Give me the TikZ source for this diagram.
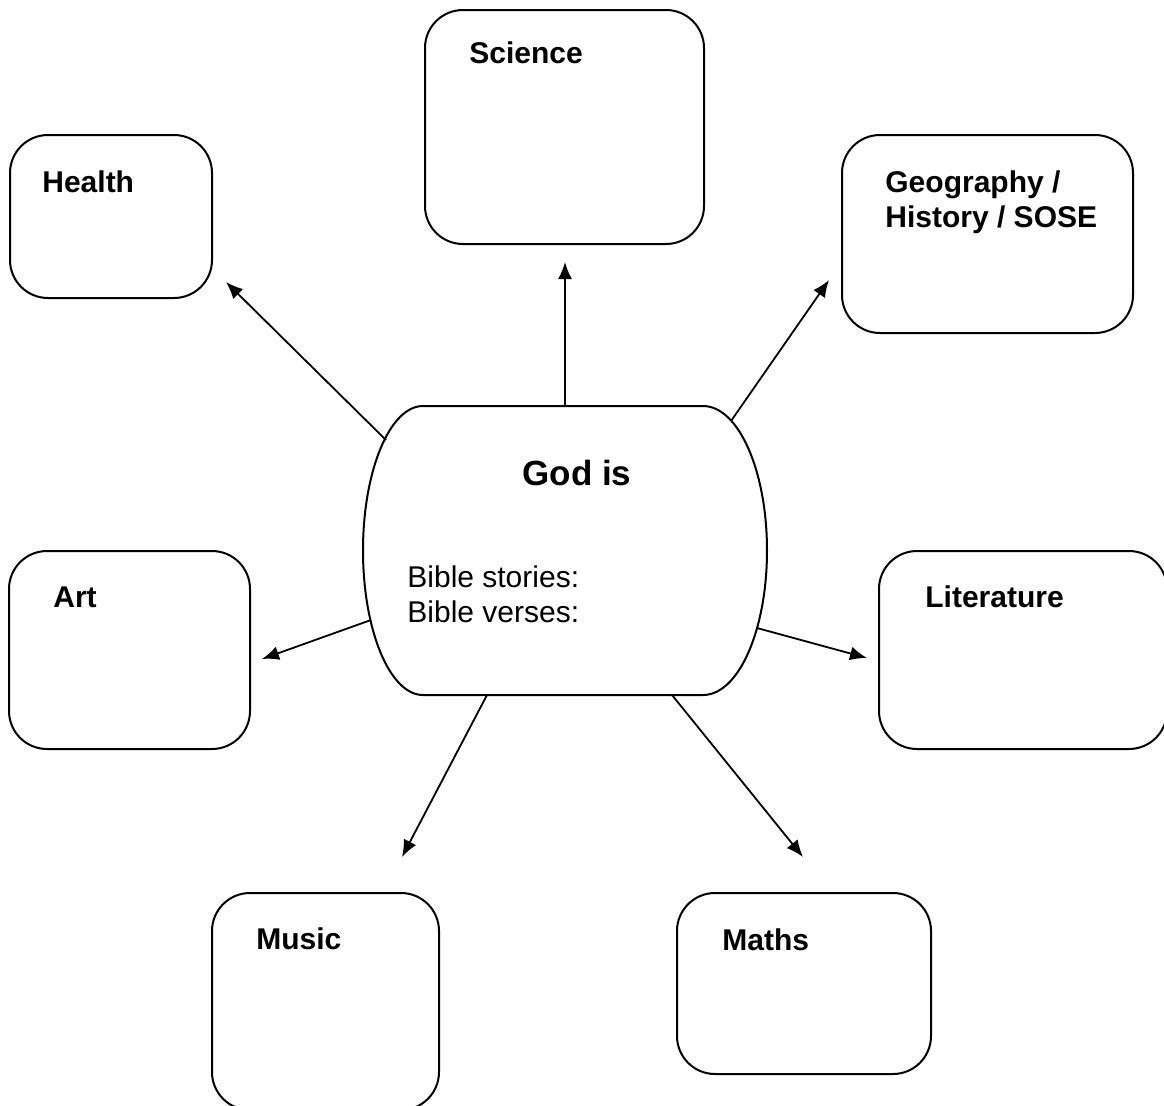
\documentclass[tikz,border=0pt]{standalone}
\usepackage{fontspec}
\setmainfont{Liberation Sans}
\usetikzlibrary{arrows.meta,fit}

\begin{document}
\begin{tikzpicture}[x=0.5pt, y=-0.5pt,
  subj/.style={draw, line width=1pt, rounded corners=19pt, inner sep=0pt},
  subjtext/.style={font=\bfseries\fontsize{15}{17.5}\selectfont, anchor=base west, inner sep=0pt, align=left},
  link/.style={-{Latex[length=8.5pt,width=7pt]}, line width=0.9pt}]
\useasboundingbox (0,0) rectangle (1164,1105);
\clip (0,0) rectangle (1164,1105);

% centre shape
\draw[line width=1pt] (423,406) -- (703,406)
  .. controls (738.5,406) and (767,470.7) .. (767,550.5)
  .. controls (767,630.3) and (738.5,695) .. (703,695) -- (423,695)
  .. controls (389.9,695) and (363,630.3) .. (363,550.5)
  .. controls (363,470.7) and (389.9,406) .. cycle;
\node[anchor=base, inner sep=0pt, font=\bfseries\fontsize{17.5}{20}\selectfont] (godis) at (577,485) {God is};
\node[anchor=base west, inner sep=0pt, align=left, font=\fontsize{15}{17.25}\selectfont] (bible) at (407,622) {Bible stories:\\Bible verses:};

% subject boxes
\node[subj, fit={(425,10) (704,244)}] (sci) {};
\node[subj, fit={(10,135) (212,298)}] (hea) {};
\node[subj, fit={(842,135) (1133,333)}] (geo) {};
\node[subj, fit={(9,551) (250,749)}] (art) {};
\node[subj, fit={(879,551) (1167,749)}] (lit) {};
\node[subj, fit={(212,893) (439,1110)}] (mus) {};
\node[subj, fit={(677,893) (931,1074)}] (mat) {};

\node[subjtext] (scitxt) at (469,63) {Science};
\node[subjtext] (heatxt) at (42,192) {Health};
\node[subjtext] (geotxt) at (885,227) {Geography /\\History / SOSE};
\node[subjtext] (arttxt) at (53,607) {Art};
\node[subjtext] (littxt) at (925,607) {Literature};
\node[subjtext] (mustxt) at (256,949) {Music};
\node[subjtext] (mattxt) at (722,950) {Maths};

% arrow ends
\coordinate (s-sci) at (565,406);  \coordinate (e-sci) at (565,262);
\coordinate (s-hea) at (386,440);  \coordinate (e-hea) at (226,282);
\coordinate (s-geo) at (731,421);  \coordinate (e-geo) at (829,280);
\coordinate (s-art) at (371,620);  \coordinate (e-art) at (262,659);
\coordinate (s-lit) at (757,628);  \coordinate (e-lit) at (867,658);
\coordinate (s-mus) at (487,695);  \coordinate (e-mus) at (402,857);
\coordinate (s-mat) at (672,695);  \coordinate (e-mat) at (803,857);

\foreach \t in {sci,hea,geo,art,lit,mus,mat}
  \draw[link] (s-\t) -- (e-\t);

\end{tikzpicture}
\end{document}
